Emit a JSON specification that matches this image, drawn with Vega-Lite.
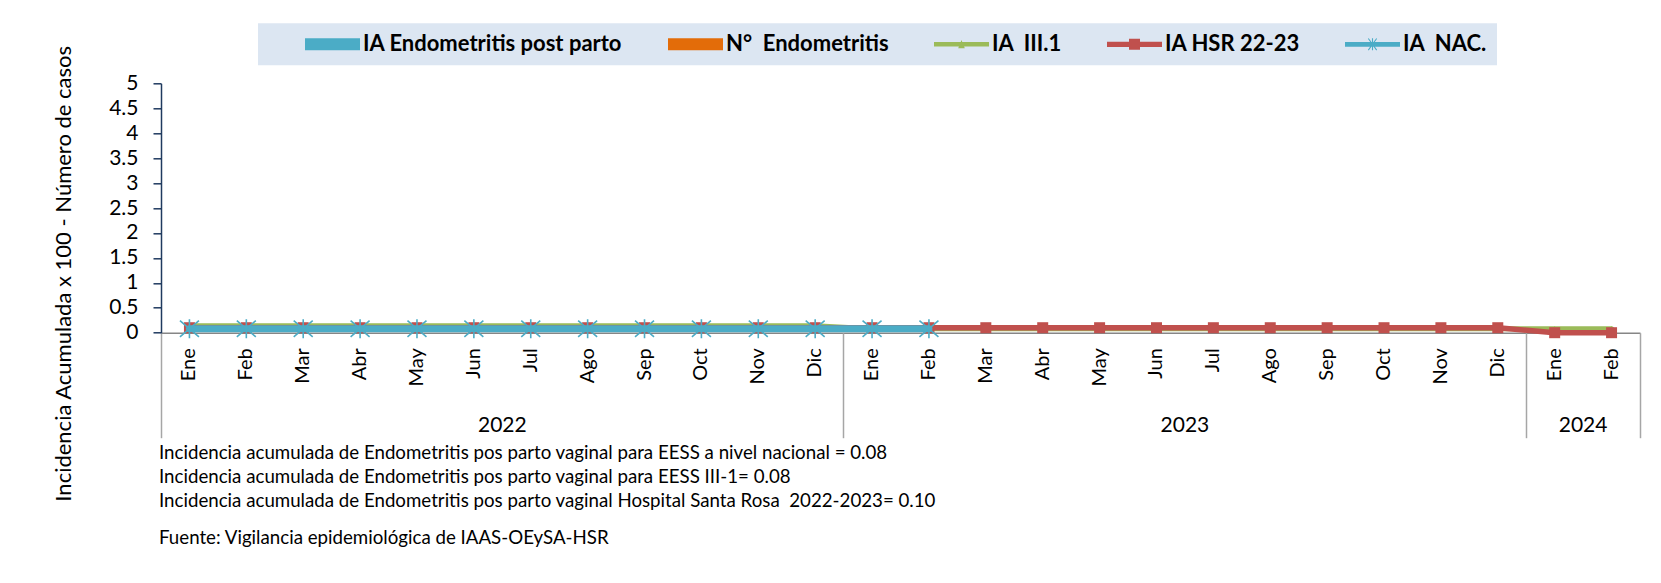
{
  "$schema": "https://vega.github.io/schema/vega-lite/v6.json",
  "autosize": {"type": "none"},
  "width": 1479,
  "height": 249.4,
  "padding": {"left": 161, "top": 83.3, "right": 21, "bottom": 250.3},
  "background": "white",
  "config": {
    "view": {"stroke": null},
    "font": "Lato",
    "axis": {"labelFont": "Lato", "titleFont": "Lato", "labelColor": "#000", "titleColor": "#000", "grid": false}
  },
  "datasets": {
    "meses": [
      {"mes": "2022-01", "ia_pp": 0, "n_endo": 0, "ia_iii1": 0.14, "ia_hsr": 0.10, "ia_nac": 0.08},
      {"mes": "2022-02", "ia_pp": 0, "n_endo": 0, "ia_iii1": 0.14, "ia_hsr": 0.10, "ia_nac": 0.08},
      {"mes": "2022-03", "ia_pp": 0, "n_endo": 0, "ia_iii1": 0.14, "ia_hsr": 0.10, "ia_nac": 0.08},
      {"mes": "2022-04", "ia_pp": 0, "n_endo": 0, "ia_iii1": 0.14, "ia_hsr": 0.10, "ia_nac": 0.08},
      {"mes": "2022-05", "ia_pp": 0, "n_endo": 0, "ia_iii1": 0.14, "ia_hsr": 0.10, "ia_nac": 0.08},
      {"mes": "2022-06", "ia_pp": 0, "n_endo": 0, "ia_iii1": 0.14, "ia_hsr": 0.10, "ia_nac": 0.08},
      {"mes": "2022-07", "ia_pp": 0, "n_endo": 0, "ia_iii1": 0.14, "ia_hsr": 0.10, "ia_nac": 0.08},
      {"mes": "2022-08", "ia_pp": 0, "n_endo": 0, "ia_iii1": 0.14, "ia_hsr": 0.10, "ia_nac": 0.08},
      {"mes": "2022-09", "ia_pp": 0, "n_endo": 0, "ia_iii1": 0.14, "ia_hsr": 0.10, "ia_nac": 0.08},
      {"mes": "2022-10", "ia_pp": 0, "n_endo": 0, "ia_iii1": 0.14, "ia_hsr": 0.10, "ia_nac": 0.08},
      {"mes": "2022-11", "ia_pp": 0, "n_endo": 0, "ia_iii1": 0.14, "ia_hsr": 0.10, "ia_nac": 0.08},
      {"mes": "2022-12", "ia_pp": 0, "n_endo": 0, "ia_iii1": 0.14, "ia_hsr": 0.10, "ia_nac": 0.08},
      {"mes": "2023-01", "ia_pp": 0, "n_endo": 0, "ia_iii1": 0.08, "ia_hsr": 0.10, "ia_nac": 0.08},
      {"mes": "2023-02", "ia_pp": 0, "n_endo": 0, "ia_iii1": 0.08, "ia_hsr": 0.10, "ia_nac": 0.08},
      {"mes": "2023-03", "ia_pp": 0, "n_endo": 0, "ia_iii1": 0.08, "ia_hsr": 0.10, "ia_nac": null},
      {"mes": "2023-04", "ia_pp": 0, "n_endo": 0, "ia_iii1": 0.08, "ia_hsr": 0.10, "ia_nac": null},
      {"mes": "2023-05", "ia_pp": 0, "n_endo": 0, "ia_iii1": 0.08, "ia_hsr": 0.10, "ia_nac": null},
      {"mes": "2023-06", "ia_pp": 0, "n_endo": 0, "ia_iii1": 0.08, "ia_hsr": 0.10, "ia_nac": null},
      {"mes": "2023-07", "ia_pp": 0, "n_endo": 0, "ia_iii1": 0.08, "ia_hsr": 0.10, "ia_nac": null},
      {"mes": "2023-08", "ia_pp": 0, "n_endo": 0, "ia_iii1": 0.08, "ia_hsr": 0.10, "ia_nac": null},
      {"mes": "2023-09", "ia_pp": 0, "n_endo": 0, "ia_iii1": 0.08, "ia_hsr": 0.10, "ia_nac": null},
      {"mes": "2023-10", "ia_pp": 0, "n_endo": 0, "ia_iii1": 0.08, "ia_hsr": 0.10, "ia_nac": null},
      {"mes": "2023-11", "ia_pp": 0, "n_endo": 0, "ia_iii1": 0.08, "ia_hsr": 0.10, "ia_nac": null},
      {"mes": "2023-12", "ia_pp": 0, "n_endo": 0, "ia_iii1": 0.08, "ia_hsr": 0.10, "ia_nac": null},
      {"mes": "2024-01", "ia_pp": 0, "n_endo": 0, "ia_iii1": 0.08, "ia_hsr": 0, "ia_nac": null},
      {"mes": "2024-02", "ia_pp": 0, "n_endo": 0, "ia_iii1": 0.08, "ia_hsr": 0, "ia_nac": null}
    ],
    "series": [
      {"serie": "IA Endometritis post parto"},
      {"serie": "N°\u00a0 Endometritis"},
      {"serie": "IA\u00a0 III.1"},
      {"serie": "IA HSR 22-23"},
      {"serie": "IA\u00a0 NAC."}
    ]
  },
  "title": {
    "text": [
      "Incidencia acumulada de Endometritis pos parto vaginal para EESS a nivel nacional = 0.08",
      "Incidencia acumulada de Endometritis pos parto vaginal para EESS III-1= 0.08",
      "Incidencia acumulada de Endometritis pos parto vaginal Hospital Santa Rosa\u00a0 2022-2023= 0.10"
    ],
    "subtitle": "Fuente: Vigilancia epidemiológica de IAAS-OEySA-HSR",
    "orient": "bottom",
    "anchor": "start",
    "frame": "group",
    "offset": -58,
    "dx": -2,
    "font": "Lato",
    "fontSize": 18.7,
    "fontWeight": "normal",
    "color": "#000",
    "lineHeight": 24.4,
    "subtitleFont": "Lato",
    "subtitleFontSize": 18.7,
    "subtitleColor": "#000",
    "subtitlePadding": 18
  },
  "layer": [
    {
      "data": {"name": "meses"},
      "transform": [{"fold": ["ia_pp", "n_endo"], "as": ["k", "v"]}],
      "mark": {"type": "bar"},
      "encoding": {
        "x": {
          "field": "mes", "type": "ordinal",
          "scale": {"type": "band", "paddingInner": 0, "paddingOuter": 0},
          "axis": {
            "orient": "bottom",
            "values": ["2022-06", "2023-06", "2024-01"],
            "labelExpr": "slice(datum.value, 0, 4)",
            "labelOffset": 28.44,
            "labelPadding": 82,
            "labelAngle": 0,
            "labelAlign": "center",
            "labelBaseline": "top",
            "labelFontSize": 21,
            "labelOverlap": false,
            "ticks": false,
            "domain": false,
            "title": null
          }
        },
        "xOffset": {"field": "k", "type": "nominal", "sort": ["ia_pp", "n_endo"]},
        "y": {
          "field": "v", "type": "quantitative",
          "scale": {"domain": [0, 5], "nice": false, "zero": true},
          "axis": {
            "values": [0, 0.5, 1, 1.5, 2, 2.5, 3, 3.5, 4, 4.5, 5],
            "format": "~g",
            "labelOverlap": false,
            "title": "Incidencia Acumulada x 100 - Número de casos",
            "titleFontSize": 22,
            "titleFontWeight": "normal",
            "titleX": -98,
            "titleY": 190,
            "titleAngle": -90,
            "titleAlign": "center",
            "titleBaseline": "middle",
            "labelFontSize": 21,
            "labelPadding": 15,
            "tickSize": 8,
            "tickWidth": 1.5,
            "tickColor": "#1F3A5F",
            "domainColor": "#1F3A5F",
            "domainWidth": 1.5,
            "grid": false
          }
        },
        "fill": {
          "field": "k", "type": "nominal",
          "scale": {"domain": ["ia_pp", "n_endo"], "range": ["#4BACC6", "#E36C09"]},
          "legend": null
        }
      }
    },
    {
      "data": {"name": "meses"},
      "mark": {"type": "line", "color": "#9BBB59", "strokeWidth": 5, "strokeCap": "round", "strokeJoin": "round"},
      "encoding": {
        "x": {
          "field": "mes", "type": "ordinal",
          "axis": {
            "orient": "bottom",
            "labelExpr": "['Ene','Feb','Mar','Abr','May','Jun','Jul','Ago','Sep','Oct','Nov','Dic'][toNumber(slice(datum.value, 5)) - 1]",
            "labelAngle": -90,
            "labelAlign": "right",
            "labelBaseline": "middle",
            "labelPadding": 15,
            "labelFontSize": 20,
            "labelOverlap": false,
            "ticks": false,
            "domainColor": "#868686",
            "domainWidth": 1.5,
            "title": null
          }
        },
        "y": {"field": "ia_iii1", "type": "quantitative", "axis": null}
      }
    },
    {
      "data": {"name": "meses"},
      "mark": {"type": "point", "shape": "triangle-up", "filled": true, "color": "#9BBB59", "size": 40, "opacity": 1},
      "encoding": {
        "x": {"field": "mes", "type": "ordinal", "axis": null},
        "y": {"field": "ia_iii1", "type": "quantitative", "axis": null}
      }
    },
    {
      "data": {"name": "meses"},
      "mark": {"type": "line", "color": "#C0504D", "strokeWidth": 5.5, "strokeCap": "round", "strokeJoin": "round"},
      "encoding": {
        "x": {
          "field": "mes", "type": "ordinal",
          "axis": {
            "orient": "bottom",
            "values": ["2022-01", "2023-01", "2024-01"],
            "bandPosition": 0,
            "ticks": true,
            "tickSize": 105,
            "tickWidth": 1.5,
            "tickColor": "#A6A6A6",
            "labels": false,
            "domain": false,
            "title": null
          }
        },
        "y": {"field": "ia_hsr", "type": "quantitative", "axis": null}
      }
    },
    {
      "data": {"name": "meses"},
      "mark": {"type": "point", "shape": "square", "filled": true, "color": "#C0504D", "size": 121, "opacity": 1},
      "encoding": {
        "x": {"field": "mes", "type": "ordinal", "axis": null},
        "y": {"field": "ia_hsr", "type": "quantitative", "axis": null}
      }
    },
    {
      "data": {"name": "meses"},
      "mark": {"type": "line", "color": "#4BACC6", "strokeWidth": 7, "strokeCap": "round", "strokeJoin": "round"},
      "encoding": {
        "x": {
          "field": "mes", "type": "ordinal",
          "axis": {
            "orient": "bottom",
            "values": ["2024-02"],
            "bandPosition": 1,
            "ticks": true,
            "tickSize": 105,
            "tickWidth": 1.5,
            "tickColor": "#A6A6A6",
            "labels": false,
            "domain": false,
            "title": null
          }
        },
        "y": {"field": "ia_nac", "type": "quantitative", "axis": null}
      }
    },
    {
      "data": {"name": "meses"},
      "mark": {"type": "point", "shape": "M0,-1V1M-1,-0.85L1,0.85M-1,0.85L1,-0.85", "filled": false, "stroke": "#4BACC6", "strokeWidth": 1.6, "size": 361, "opacity": 1},
      "encoding": {
        "x": {"field": "mes", "type": "ordinal", "axis": null},
        "y": {"field": "ia_nac", "type": "quantitative", "axis": null}
      }
    },
    {
      "data": {"name": "series"},
      "mark": {"type": "point", "filled": true, "opacity": 0},
      "encoding": {
        "color": {
          "field": "serie", "type": "nominal",
          "scale": {
            "domain": ["IA Endometritis post parto", "N°\u00a0 Endometritis", "IA\u00a0 III.1", "IA HSR 22-23", "IA\u00a0 NAC."],
            "range": ["#4BACC6", "#E36C09", "#9BBB59", "#C0504D", "#4BACC6"]
          },
          "legend": {
            "orient": "none",
            "legendX": 97,
            "legendY": -60,
            "direction": "horizontal",
            "title": null,
            "fillColor": "#DCE6F2",
            "padding": 10,
            "symbolSize": 484,
            "symbolStrokeWidth": 0,
            "symbolOpacity": 1,
            "symbolOffset": 37,
            "labelOffset": 36,
            "columnPadding": 8,
            "labelFont": "Lato",
            "labelFontSize": 22,
            "labelFontWeight": "bold",
            "labelColor": "#000",
            "labelLimit": 400,
            "encode": {"symbols": {"update": {"opacity": {"value": 1}}}}
          }
        },
        "shape": {
          "field": "serie", "type": "nominal",
          "scale": {
            "domain": ["IA Endometritis post parto", "N°\u00a0 Endometritis", "IA\u00a0 III.1", "IA HSR 22-23", "IA\u00a0 NAC."],
            "range": [
              "M-1,-0.55H4V0.55H-1Z",
              "M-1,-0.55H4V0.55H-1Z",
              "M-1,-0.2H4V0.2H-1Z M1.2,0.35L1.5,-0.4L1.8,0.35Z",
              "M-1,-0.24H4V0.24H-1Z M1.0,-0.5H2.0V0.5H1.0Z",
              "M-1,-0.22H4V0.22H-1Z M1.45,-0.55H1.55V0.55H1.45Z M1.08,-0.5L1.16,-0.56L1.92,0.5L1.84,0.56Z M1.84,-0.56L1.92,-0.5L1.16,0.56L1.08,0.5Z"
            ]
          }
        }
      }
    }
  ],
  "resolve": {"axis": {"x": "independent", "y": "independent"}}
}
